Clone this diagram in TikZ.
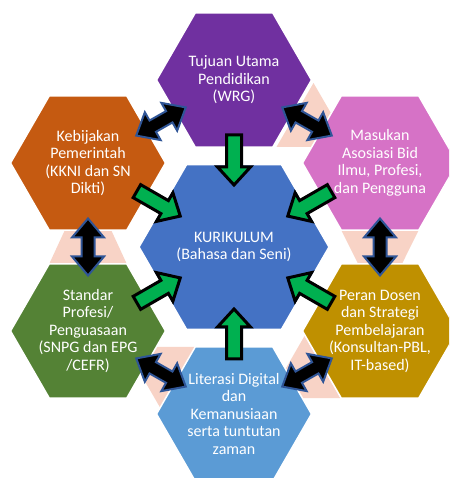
\documentclass[tikz,border=0pt]{standalone}
\usepackage{fontspec}
\setmainfont{Carlito}
\usetikzlibrary{calc}

\definecolor{hexpurple}{HTML}{7030A0}
\definecolor{hexorange}{HTML}{C55A11}
\definecolor{hexpink}{RGB}{214,114,198}
\definecolor{hexgold}{HTML}{BF9000}
\definecolor{hexgreen}{HTML}{548235}
\definecolor{hexsky}{HTML}{5B9BD5}
\definecolor{hexblue}{HTML}{4472C4}
\definecolor{peachfill}{RGB}{248,211,198}
\definecolor{linkedge}{HTML}{2F5597}
\definecolor{feedgreen}{HTML}{00B050}

% flat-topped hexagon: centre, circumradius, colour
\newcommand\hexat[3]{%
  \path[hexface, fill=#3]
    ($(#1)+(0:#2)$) -- ($(#1)+(60:#2)$) -- ($(#1)+(120:#2)$) --
    ($(#1)+(180:#2)$) -- ($(#1)+(240:#2)$) -- ($(#1)+(300:#2)$) -- cycle;}

% two-headed block arrow halfway between two nodes
\newcommand\linkarrow[2]{%
  \pgfmathanglebetweenpoints{\pgfpointanchor{#1}{center}}{\pgfpointanchor{#2}{center}}%
  \edef\linkangle{\pgfmathresult}%
  \begin{scope}[shift={($(#1.center)!0.5!(#2.center)$)}, rotate=\linkangle]
    \path[linkarrow] (-28.5,0) -- (-9.5,16) -- (-9.5,6.5) -- (9.5,6.5) -- (9.5,16)
      -- (28.5,0) -- (9.5,-16) -- (9.5,-6.5) -- (-9.5,-6.5) -- (-9.5,-16) -- cycle;
  \end{scope}}

% block arrow from an outer node towards the central node
\newcommand\feedarrow[2]{%
  \pgfmathanglebetweenpoints{\pgfpointanchor{#2}{center}}{\pgfpointanchor{#1}{center}}%
  \edef\feedangle{\pgfmathresult}%
  \begin{scope}[shift={(#2.center)}, rotate=\feedangle]
    \path[feedarrow] (112,7.5) -- (80,7.5) -- (80,16.5) -- (62,0) -- (80,-16.5)
      -- (80,-7.5) -- (112,-7.5) -- cycle;
  \end{scope}}

\begin{document}
\begin{tikzpicture}[x=1pt, y=1pt,
  hexface/.style={draw=white, line width=1.5pt, line join=miter},
  hexlabel/.style={text=white, align=center, inner sep=0pt,
    font=\fontsize{16}{17.5}\selectfont},
  gapfill/.style={fill=peachfill},
  linkarrow/.style={fill=black, draw=linkedge, line width=2pt, line join=miter},
  feedarrow/.style={fill=feedgreen, draw=black, line width=3pt, line join=miter}]

\useasboundingbox (0,0) rectangle (449,478);
\fill[white] (0,0) rectangle (449,478);
\clip (0,0) rectangle (449,478);

% hexagon centres
\coordinate (pc) at (234,231);
\coordinate (pt) at (234,398);
\coordinate (pb) at (234,64);
\coordinate (pul) at (88,315);
\coordinate (pll) at (88,147);
\coordinate (pur) at (380,315);
\coordinate (plr) at (380,147);

% peach wedges in the gaps between the outer hexagons
\path[gapfill] (313.5,395) -- (276.5,331) -- (350.5,331) -- cycle;
\path[gapfill] (341.25,247.9) -- (418.75,247.9) -- (380,170) -- cycle;
\path[gapfill] (304.5,142) -- (268.7,79.9) -- (340.3,79.9) -- cycle;
\path[gapfill] (125,131.1) -- (235,131.1) -- (180,36) -- cycle;
\path[gapfill] (49.25,214.1) -- (126.75,214.1) -- (88,298) -- cycle;

% hexagons
\hexat{pc}{95}{hexblue}
\hexat{pt}{77.5}{hexpurple}
\hexat{pul}{77.5}{hexorange}
\hexat{pur}{77.5}{hexpink}
\hexat{pll}{77.5}{hexgreen}
\hexat{plr}{77.5}{hexgold}
\hexat{pb}{77.5}{hexsky}

% labels
\node[hexlabel] (kur) at (pc) {KURIKULUM\\(Bahasa dan Seni)};
\node[hexlabel] (tuj) at (pt) {Tujuan Utama\\Pendidikan\\(WRG)};
\node[hexlabel] (keb) at (pul) {Kebijakan\\Pemerintah\\(KKNI dan SN\\Dikti)};
\node[hexlabel] (mas) at (pur) {Masukan\\Asosiasi Bid\\Ilmu, Profesi,\\dan Pengguna};
\node[hexlabel] (sta) at (pll) {Standar\\Profesi/\\Penguasaan\\(SNPG dan EPG\\/CEFR)};
\node[hexlabel] (per) at (plr) {Peran Dosen\\dan Strategi\\Pembelajaran\\(Konsultan-PBL,\\IT-based)};
\node[hexlabel] (lit) at (pb) {Literasi Digital\\dan\\Kemanusiaan\\serta tuntutan\\zaman};

% links between neighbouring outer hexagons
\linkarrow{keb}{tuj}
\linkarrow{tuj}{mas}
\linkarrow{mas}{per}
\linkarrow{per}{lit}
\linkarrow{lit}{sta}
\linkarrow{sta}{keb}

% inputs into the curriculum
\feedarrow{tuj}{kur}
\feedarrow{keb}{kur}
\feedarrow{mas}{kur}
\feedarrow{sta}{kur}
\feedarrow{per}{kur}
\feedarrow{lit}{kur}
\end{tikzpicture}
\end{document}
